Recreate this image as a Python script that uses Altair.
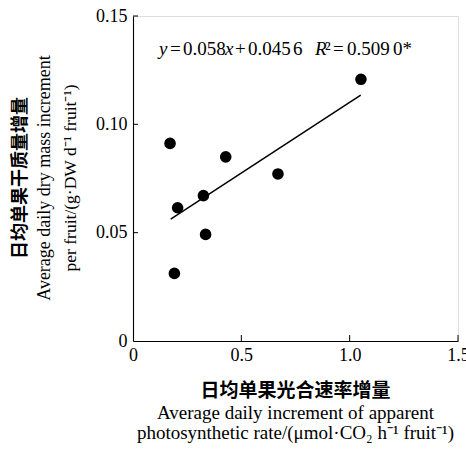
import altair as alt
import pandas as pd

# Data
px = [0.171, 0.191, 0.206, 0.325, 0.335, 0.428, 0.669, 1.052]
py = [0.0912, 0.0312, 0.0615, 0.0671, 0.0492, 0.0850, 0.0771, 0.1208]
fit_x = [0.174, 1.051]
fit_y = [0.0563, 0.1135]

x_ticks = [0, 0.5, 1.0, 1.5]
y_ticks = [0, 0.05, 0.10, 0.15]

# annotation pieces (x start in data units, text, italic)
ann_x = [0.120, 0.171, 0.231, 0.425, 0.471, 0.531, 0.739, 0.840, 0.886, 0.923, 0.988, 1.200]
ann_text = ["y", "=", "0.058", "x", "+", "0.045", "6", "R", "²", "=", "0.509", "0*"]
ann_italic = [True, False, False, True, False, False, False, True, False, False, False, False]
ann_y = 0.132

x_title = ["日均单果光合速率增量", "Average daily increment of apparent",
           "photosynthetic rate/(μmol·CO₂ h⁻¹ fruit⁻¹)"]
y_title = ["日均单果干质量增量", "Average daily dry mass increment",
           "per fruit/(g·DW d⁻¹ fruit⁻¹)"]

W, H = 325, 325
SERIF = "Liberation Serif"
CJK = "Noto Sans CJK SC"

pts = pd.DataFrame({"x": px, "y": py})
fit = pd.DataFrame({"x": fit_x, "y": fit_y})
ann = pd.DataFrame({"x": ann_x, "y": [ann_y] * len(ann_x), "t": ann_text, "it": ann_italic})

xs = alt.Scale(domain=[0, 1.5], nice=False, zero=False)
ys = alt.Scale(domain=[0, 0.15], nice=False, zero=False)

xaxis = alt.Axis(values=x_ticks, title=None, grid=False, ticks=False,
                 labelExpr="datum.value == 0 ? '0' : format(datum.value, '.1f')",
                 labelFont=SERIF, labelFontSize=18, labelColor="black",
                 labelPadding=5, domainColor="black", domainWidth=1.1, labelFlush=False)
yaxis = alt.Axis(values=y_ticks, title=None, grid=False, ticks=False,
                 labelExpr="datum.value == 0 ? '0' : format(datum.value, '.2f')",
                 labelFont=SERIF, labelFontSize=18, labelColor="black",
                 labelPadding=6, domainColor="black", domainWidth=1.1, labelFlush=False)

base = alt.Chart(pts)

points = base.mark_circle(size=135, color="black", opacity=1).encode(
    x=alt.X("x:Q", scale=xs, axis=xaxis),
    y=alt.Y("y:Q", scale=ys, axis=yaxis),
)

line = alt.Chart(fit).mark_line(color="black", strokeWidth=1.5).encode(
    x=alt.X("x:Q", scale=xs), y=alt.Y("y:Q", scale=ys))

xt = pd.DataFrame({"v": x_ticks[1:]})
yt = pd.DataFrame({"v": y_ticks[1:]})
xtick_marks = alt.Chart(xt).mark_rule(color="black", strokeWidth=1).encode(
    x=alt.X("v:Q", scale=xs), y=alt.value(H), y2=alt.value(H - 6))
ytick_marks = alt.Chart(yt).mark_rule(color="black", strokeWidth=1).encode(
    y=alt.Y("v:Q", scale=ys), x=alt.value(0), x2=alt.value(5))

ann_it = alt.Chart(ann[ann["it"]]).mark_text(
    font=SERIF, fontSize=19, fontStyle="italic", align="left", baseline="alphabetic", color="black"
).encode(x=alt.X("x:Q", scale=xs), y=alt.Y("y:Q", scale=ys), text="t:N")
ann_rm = alt.Chart(ann[~ann["it"]]).mark_text(
    font=SERIF, fontSize=19, align="left", baseline="alphabetic", color="black"
).encode(x=alt.X("x:Q", scale=xs), y=alt.Y("y:Q", scale=ys), text="t:N")

def label(text, x, y, font, size, weight="normal", angle=0):
    return alt.Chart(pd.DataFrame({"t": [text]})).mark_text(
        font=font, fontSize=size, fontWeight=weight, angle=angle,
        align="center", baseline="middle", color="black"
    ).encode(x=alt.value(x), y=alt.value(y), text="t:N")

titles = [
    label(x_title[0], W / 2, 375, CJK, 19, "bold"),
    label(x_title[1], W / 2, 397, SERIF, 19),
    label(x_title[2], W / 2, 417, SERIF, 19),
    label(y_title[0], -112, 162, CJK, 18, "bold", 270),
    label(y_title[1], -88, 162, SERIF, 18, "normal", 270),
    label(y_title[2], -62, 162, SERIF, 17.5, "normal", 270),
]

chart = alt.layer(points, line, xtick_marks, ytick_marks, ann_it, ann_rm, *titles).properties(
    width=W, height=H,
    autosize=alt.AutoSizeParams(type="none"),
    padding={"left": 133, "top": 16, "right": 8, "bottom": 115},
).configure_view(stroke=None).configure(background="white")

chart.save("out.html", embed_options={"renderer": "svg", "actions": False})
